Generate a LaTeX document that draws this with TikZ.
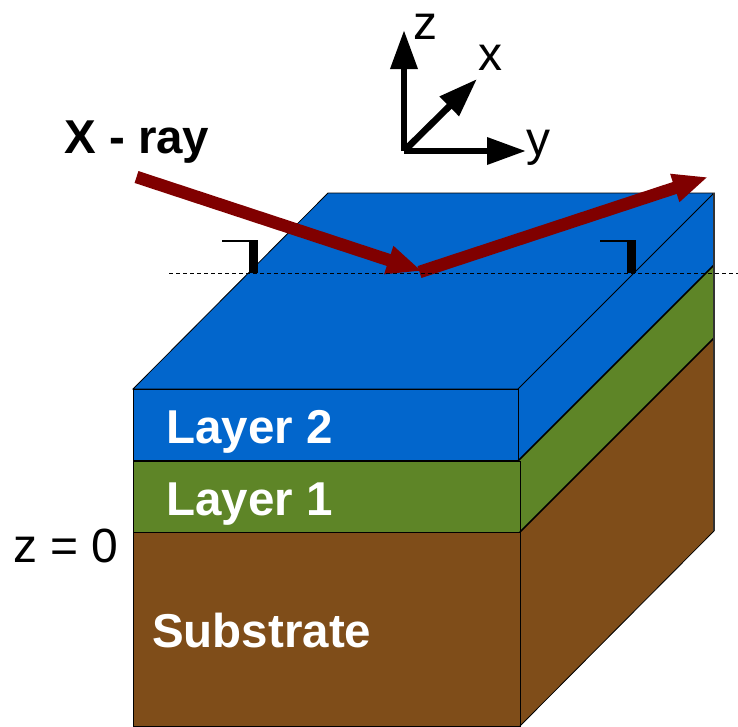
\documentclass[tikz,border=0pt]{standalone}
\usepackage{fontspec}
\setmainfont{Liberation Sans}
\usetikzlibrary{arrows.meta}
\definecolor{toplayer}{RGB}{2,102,204}
\definecolor{midlayer}{RGB}{94,133,39}
\definecolor{sublayer}{RGB}{127,77,25}
\definecolor{beam}{RGB}{128,0,0}
\begin{document}
\begin{tikzpicture}[x=1pt,y=-1pt,
  face/.style={draw=black,line width=.8pt},
  axis/.style={-{Triangle[length=39pt,width=26pt]},line width=6.6pt},
  ray/.style={-{Triangle[length=35pt,width=27pt]},beam,line width=12.5pt},
  tag/.style={anchor=base west,inner sep=0pt,font=\fontsize{48}{48}\selectfont},
  lbl/.style={tag,text=white,font=\fontsize{47.5}{48}\selectfont\bfseries},
  tick/.style={draw=black,line width=2pt}]
\useasboundingbox (0,0) rectangle (738,726);
\coordinate (f0) at (133,389);
\coordinate (f1) at (518,389);
\coordinate (f2) at (133,461);
\coordinate (f3) at (518,461);
\coordinate (f4) at (133,532);
\coordinate (f5) at (520,532);
\coordinate (f6) at (133,726);
\coordinate (f7) at (520,726);
\coordinate (b0) at (328,193);
\coordinate (b1) at (714,193);
\coordinate (b2) at (714,265);
\coordinate (b3) at (714,338);
\coordinate (b4) at (714,531);
\fill[sublayer] (f5) -- (b3) -- (b4) -- (f7) -- cycle;
\fill[midlayer] (f3) -- (b2) -- (b3) -- (f5) -- cycle;
\fill[toplayer] (f1) -- (b1) -- (b2) -- (f3) -- cycle;
\draw[face,fill=toplayer] (f0) -- (b0) -- (b1) -- (f1) -- cycle;
\draw[face,fill=sublayer] (f4) rectangle (f7);
\draw[face,fill=midlayer] (f2) rectangle (f5);
\draw[face,fill=toplayer] (f0) rectangle (f3);
\draw[line width=2pt] (f2) -- (f3);
\draw[face] (f7) -- (b4);
\draw[line width=1.6pt] (f5) -- (b3);
\draw[line width=1.6pt] (f3) -- (b2);
\draw[draw=black!80,line width=2pt] (b1) -- (b4);
\coordinate (in) at (136.5,177);
\coordinate (hit) at (422,271);
\coordinate (bounce) at (419.5,272);
\coordinate (out) at (708,177);
\draw[ray] (in) -- (hit);
\draw[ray] (bounce) -- (out);
\coordinate (d0) at (169,273);
\coordinate (d1) at (738,273);
\draw[black,line width=.8pt,dash pattern=on 4pt off 3pt] (d0) -- (d1);
\coordinate (m0) at (222,241);
\coordinate (m1) at (258,241);
\coordinate (m2) at (253.7,241);
\coordinate (m3) at (253.7,273);
\draw[tick] (m0) -- (m1);
\draw[tick,line width=8.5pt] (m2) -- (m3);
\coordinate (n0) at (600,241);
\coordinate (n1) at (636,241);
\coordinate (n2) at (631.7,241);
\coordinate (n3) at (631.7,273);
\draw[tick] (n0) -- (n1);
\draw[tick,line width=8.5pt] (n2) -- (n3);
\coordinate (o) at (404,151);
\coordinate (zend) at (404,30);
\coordinate (yend) at (526,151);
\coordinate (xend) at (477,79);
\draw[axis] (o) -- (zend);
\draw[axis] (o) -- (yend);
\draw[axis] (o) -- (xend);
\node[tag] (zlabel) at (413,39) {z};
\node[tag] (xlabel) at (478,70) {x};
\node[tag] (ylabel) at (526,155) {y};
\node[tag,font=\fontsize{47.5}{48}\selectfont\bfseries] (xray) at (64,153) {X - ray};
\node[tag] (zero) at (13,562) {z = 0};
\node[lbl] (lay2) at (166,443) {Layer 2};
\node[lbl] (lay1) at (166,515) {Layer 1};
\node[lbl] (sub) at (152,647) {Substrate};
\end{tikzpicture}
\end{document}
